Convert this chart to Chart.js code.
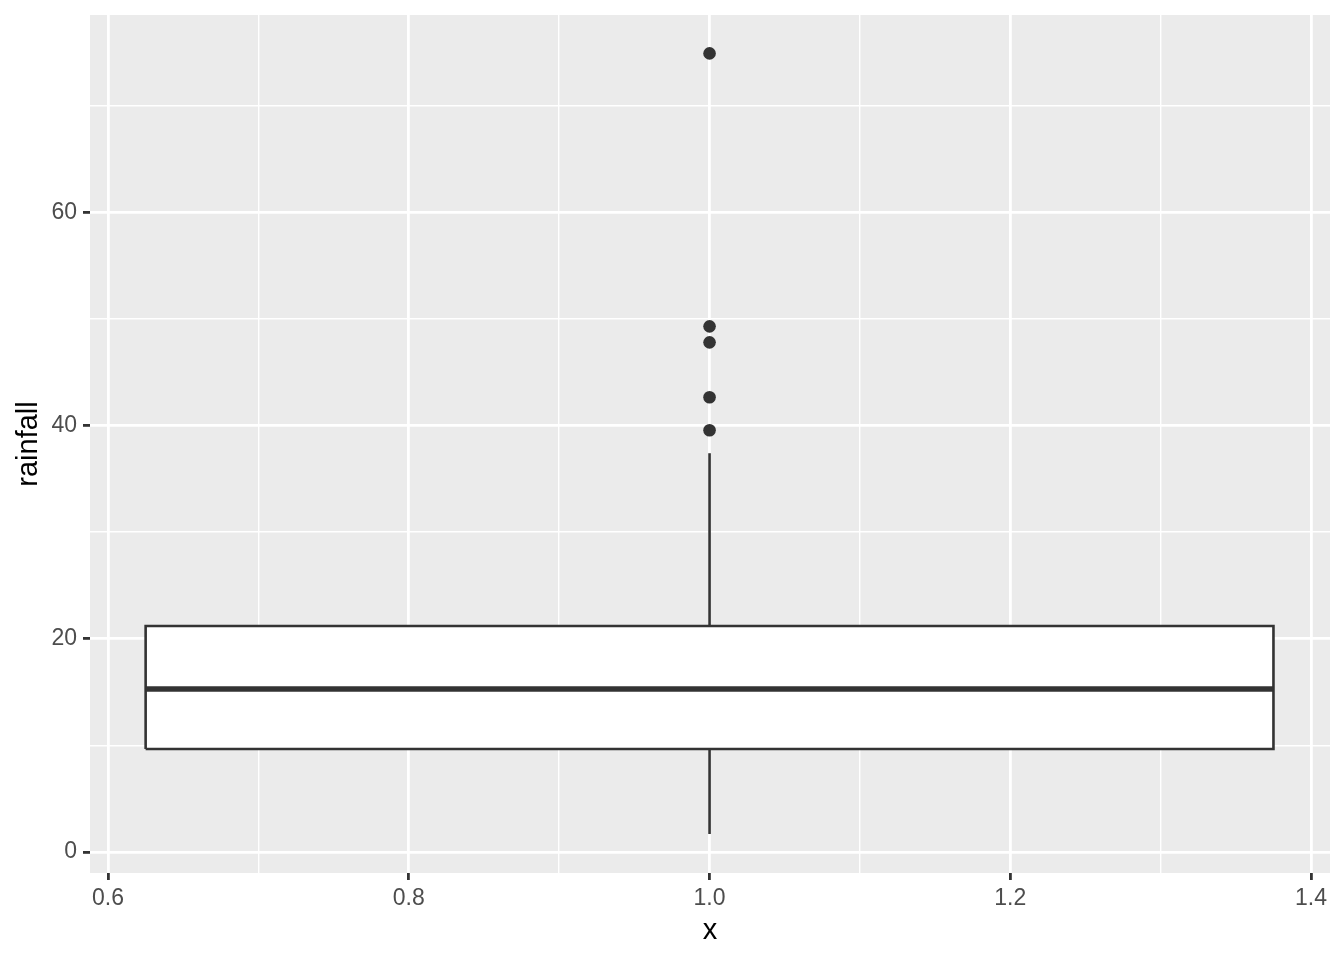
<!DOCTYPE html>
<html>
<head>
<meta charset="utf-8">
<script src="https://cdn.jsdelivr.net/npm/chart.js@4"></script>
<style>
  html, body { margin: 0; padding: 0; background: #ffffff; }
  #wrap { width: 1344px; height: 960px; }
</style>
</head>
<body>
<div id="wrap"><canvas id="grafico"></canvas></div>
<script>
// dados do boxplot (rainfall)
var boxCenter = 1.0;
var boxHalfWidth = 0.375;
var q1 = 9.66;
var median = 15.28;
var q3 = 21.19;
var whiskerLow = 1.69;
var whiskerHigh = 37.4;
var outliers = [74.9, 49.3, 47.8, 42.65, 39.56];

var xTicks = [0.6, 0.7, 0.8, 0.9, 1.0, 1.1, 1.2, 1.3, 1.4];
var xMajor = [0.6, 0.8, 1.0, 1.2, 1.4];
var yTicks = [0, 10, 20, 30, 40, 50, 60, 70];
var yMajor = [0, 20, 40, 60];

function isMajor(list, v) {
    return list.some(function (m) { return Math.abs(m - v) < 1e-9; });
}

var left = boxCenter - boxHalfWidth;
var right = boxCenter + boxHalfWidth;

var fundoPainel = {
    id: 'fundoPainel',
    beforeDraw: function (chart) {
        var a = chart.chartArea;
        var c = chart.ctx;
        c.save();
        c.fillStyle = '#EBEBEB';
        c.fillRect(a.left, a.top, a.right - a.left, a.bottom - a.top);
        c.restore();
    }
};

var dados = {
    datasets: [
        {
            label: 'outliers',
            data: outliers.map(function (v) { return { x: boxCenter, y: v }; }),
            showLine: false,
            pointRadius: 6.3,
            pointBackgroundColor: '#333333',
            pointBorderWidth: 0
        },
        {
            label: 'mediana',
            data: [{ x: left, y: median }, { x: right, y: median }],
            showLine: true,
            borderColor: '#333333',
            borderWidth: 5.5,
            pointRadius: 0
        },
        {
            label: 'caixa',
            data: [{ x: left, y: q1 }, { x: right, y: q1 }, { x: right, y: q3 }, { x: left, y: q3 }, { x: left, y: q1 }],
            showLine: true,
            fill: 'shape',
            backgroundColor: '#ffffff',
            borderColor: '#333333',
            borderWidth: 2.6,
            borderJoinStyle: 'miter',
            pointRadius: 0
        },
        {
            label: 'bigode superior',
            data: [{ x: boxCenter, y: q3 }, { x: boxCenter, y: whiskerHigh }],
            showLine: true,
            borderColor: '#333333',
            borderWidth: 2.6,
            pointRadius: 0
        },
        {
            label: 'bigode inferior',
            data: [{ x: boxCenter, y: whiskerLow }, { x: boxCenter, y: q1 }],
            showLine: true,
            borderColor: '#333333',
            borderWidth: 2.6,
            pointRadius: 0
        }
    ]
};

var opcoes = {
    responsive: true,
    maintainAspectRatio: false,
    animation: false,
    layout: { padding: { top: 15, right: 14, left: 0, bottom: 0 } },
    scales: {
        x: {
            type: 'linear',
            min: 0.588,
            max: 1.4126,
            afterBuildTicks: function (scale) {
                scale.ticks = xTicks.map(function (v) { return { value: v }; });
            },
            afterFit: function (scale) {
                scale.height = 87;
                scale.paddingLeft = 0;
                scale.paddingRight = 0;
            },
            border: { display: false },
            grid: {
                color: '#ffffff',
                lineWidth: function (ctx) { return isMajor(xMajor, ctx.tick.value) ? 2.8 : 1.4; },
                tickColor: function (ctx) { return isMajor(xMajor, ctx.tick.value) ? '#333333' : 'rgba(0,0,0,0)'; },
                tickLength: 7,
                tickWidth: 2.8
            },
            ticks: {
                autoSkip: false,
                maxRotation: 0,
                padding: 5,
                color: '#4D4D4D',
                font: { family: 'Liberation Sans', size: 23 },
                callback: function (v) { return isMajor(xMajor, v) ? v.toFixed(1) : ''; }
            },
            title: {
                display: true,
                text: 'x',
                color: '#000000',
                font: { family: 'Liberation Sans', size: 29 },
                padding: { top: 0, bottom: 12 }
            }
        },
        y: {
            type: 'linear',
            min: -1.97,
            max: 78.5,
            afterBuildTicks: function (scale) {
                scale.ticks = yTicks.map(function (v) { return { value: v }; });
            },
            afterFit: function (scale) {
                scale.width = 90;
                scale.paddingTop = 0;
                scale.paddingBottom = 0;
            },
            border: { display: false },
            grid: {
                color: '#ffffff',
                lineWidth: function (ctx) { return isMajor(yMajor, ctx.tick.value) ? 2.8 : 1.4; },
                tickColor: function (ctx) { return isMajor(yMajor, ctx.tick.value) ? '#333333' : 'rgba(0,0,0,0)'; },
                tickLength: 7,
                tickWidth: 2.8
            },
            ticks: {
                autoSkip: false,
                padding: 6,
                color: '#4D4D4D',
                font: { family: 'Liberation Sans', size: 23 },
                callback: function (v) { return isMajor(yMajor, v) ? String(v) : ''; }
            },
            title: {
                display: true,
                text: 'rainfall',
                color: '#000000',
                font: { family: 'Liberation Sans', size: 29 },
                padding: { top: 12, bottom: 0 }
            }
        }
    },
    plugins: {
        legend: { display: false },
        tooltip: { enabled: false }
    }
};

var grafico = new Chart(document.getElementById('grafico').getContext('2d'), {
    type: 'scatter',
    data: dados,
    options: opcoes,
    plugins: [fundoPainel]
});
</script>
</body>
</html>
